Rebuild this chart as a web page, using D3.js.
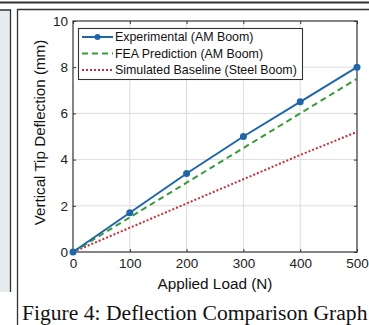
<!DOCTYPE html>
<html><head><meta charset="utf-8">
<script src="https://cdn.jsdelivr.net/npm/d3@7"></script>
<style>body{margin:0;background:#fff}svg{display:block}</style>
</head><body>
<svg id="c" width="369" height="325"></svg>
<script>
const loads = [0, 100, 200, 300, 400, 500];
const experimental = [0, 1.7, 3.4, 5.0, 6.5, 8.0];
const fea = [0, 1.5, 3.0, 4.5, 6.0, 7.5];
const baseline = [0, 1.05, 2.1, 3.15, 4.2, 5.2];
const xTicks = [0, 100, 200, 300, 400, 500];
const yTicks = [0, 2, 4, 6, 8, 10];
const seriesNames = ["Experimental (AM Boom)", "FEA Prediction (AM Boom)", "Simulated Baseline (Steel Boom)"];

const svg = d3.select("#c");
const font = "Liberation Sans, Arial, sans-serif";

// surrounding frame fragments
svg.append("rect").attr("x",0).attr("y",10).attr("width",10).attr("height",282).attr("fill","#e6ebf0");
svg.append("line").attr("x1",0).attr("x2",369).attr("y1",2.5).attr("y2",2.5).attr("stroke","#333").attr("stroke-width",2);
svg.append("path").attr("d","M0,10H10.5V292").attr("fill","none").attr("stroke","#333").attr("stroke-width",1.3);
svg.append("path").attr("d","M17.5,325V9.5H369").attr("fill","none").attr("stroke","#333").attr("stroke-width",1.3);

const m = {l:73, r:357, t:21, b:252};
const x = d3.scaleLinear().domain([0,500]).range([m.l, m.r]);
const y = d3.scaleLinear().domain([0,10]).range([m.b, m.t]);

const g = svg.append("g");
// grid
g.selectAll(".gx").data(xTicks.slice(1,-1)).join("line")
  .attr("x1",d=>x(d)).attr("x2",d=>x(d)).attr("y1",m.t).attr("y2",m.b)
  .attr("stroke","#dcdcdc").attr("stroke-width",1);
g.selectAll(".gy").data(yTicks.slice(1,-1)).join("line")
  .attr("x1",m.l).attr("x2",m.r).attr("y1",d=>y(d)).attr("y2",d=>y(d))
  .attr("stroke","#dcdcdc").attr("stroke-width",1);

// axes (ticks inward)
const ax = g.append("g").attr("transform",`translate(0,${m.b})`)
  .call(d3.axisBottom(x).tickValues(xTicks).tickSizeInner(-3).tickSizeOuter(0).tickPadding(6));
const axTop = g.append("g").attr("transform",`translate(0,${m.t})`)
  .call(d3.axisTop(x).tickValues(xTicks).tickSizeInner(-3).tickSizeOuter(0).tickFormat(""));
const ay = g.append("g").attr("transform",`translate(${m.l},0)`)
  .call(d3.axisLeft(y).tickValues(yTicks).tickSizeInner(-3).tickSizeOuter(0).tickPadding(5));
const ayR = g.append("g").attr("transform",`translate(${m.r},0)`)
  .call(d3.axisRight(y).tickValues(yTicks).tickSizeInner(-3).tickSizeOuter(0).tickFormat(""));
[ax,axTop,ay,ayR].forEach(a=>{
  a.select(".domain").remove();
  a.selectAll("line").attr("stroke","#333");
  a.selectAll("text").attr("font-family",font).attr("font-size",13.5).attr("fill","#222");
});
g.append("rect").attr("x",m.l).attr("y",m.t).attr("width",m.r-m.l).attr("height",m.b-m.t)
  .attr("fill","none").attr("stroke","#333").attr("stroke-width",1.2);

const line = d3.line().x((d,i)=>x(loads[i])).y(d=>y(d));
const colors = ["#1f66a8","#3a9a3a","#c0303a"];
const dashes = [null,"6,4","2,2"];
const data = [experimental, fea, baseline];
[2,1,0].forEach(k=>{
  g.append("path").datum(data[k]).attr("d",line).attr("fill","none")
    .attr("stroke",colors[k]).attr("stroke-width",2).attr("stroke-dasharray",dashes[k]);
});
g.selectAll(".pt").data(experimental).join("circle")
  .attr("cx",(d,i)=>x(loads[i])).attr("cy",d=>y(d)).attr("r",3.5).attr("fill",colors[0]);

// legend
const lg = g.append("g");
lg.append("rect").attr("x",78.5).attr("y",28.5).attr("width",224).attr("height",51)
  .attr("fill","#fff").attr("stroke","#333").attr("stroke-width",1.1);
seriesNames.forEach((n,k)=>{
  const yy = 37 + k*16.5;
  lg.append("line").attr("x1",82).attr("x2",113).attr("y1",yy).attr("y2",yy)
    .attr("stroke",colors[k]).attr("stroke-width",2).attr("stroke-dasharray",dashes[k]);
  if(k==0) lg.append("circle").attr("cx",97.5).attr("cy",yy).attr("r",3).attr("fill",colors[0]);
  lg.append("text").attr("x",115).attr("y",yy).attr("dy","0.35em").text(n)
    .attr("font-family",font).attr("font-size",12.4).attr("fill","#111");
});

// axis titles
svg.append("text").attr("x",(m.l+m.r)/2).attr("y",284).attr("dy","0.35em").attr("text-anchor","middle")
  .text("Applied Load (N)").attr("font-family",font).attr("font-size",15.3).attr("fill","#111");
svg.append("text").attr("transform",`translate(40,${(m.t+m.b)/2-4}) rotate(-90)`).attr("dy","0.35em")
  .attr("text-anchor","middle").text("Vertical Tip Deflection (mm)")
  .attr("font-family",font).attr("font-size",15.2).attr("fill","#111");

// caption
svg.append("text").attr("x",22).attr("y",312).attr("dy","0.35em")
  .text("Figure 4: Deflection Comparison Graph")
  .attr("font-family","Liberation Serif, Times New Roman, serif").attr("font-size",21.6).attr("fill","#111");
</script>
</body></html>
